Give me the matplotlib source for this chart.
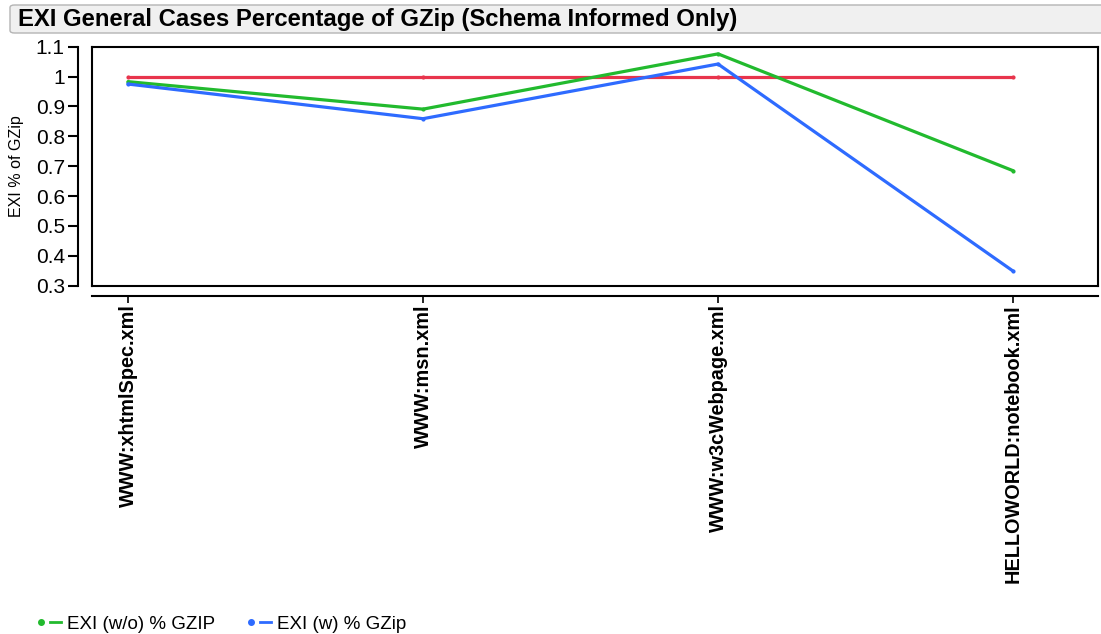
# %%
# EXI / GZip size ratio for the general test cases
import numpy as np
import matplotlib
matplotlib.use('Agg')
import matplotlib.pyplot as plt
from matplotlib.lines import Line2D
from matplotlib.patches import FancyBboxPatch
from matplotlib.legend_handler import HandlerTuple

plt.rcParams['font.family'] = ['Liberation Sans', 'DejaVu Sans']

categories = ['WWW:xhtmlSpec.xml', 'WWW:msn.xml', 'WWW:w3cWebpage.xml', 'HELLOWORLD:notebook.xml']
gzip_base = [1.0, 1.0, 1.0, 1.0]
exi_wo = [0.983, 0.891, 1.076, 0.685]
exi_w = [0.975, 0.859, 1.042, 0.349]
yticks = [0.3, 0.4, 0.5, 0.6, 0.7, 0.8, 0.9, 1, 1.1]

GREEN = '#22BA2E'
BLUE = '#2E6BFF'
RED = '#E8344C'

W, H = 1101, 634
fig = plt.figure(figsize=(W / 100, H / 100), dpi=100)


def box(x0, y0, x1, y1):
    # pixel box (top-left origin) -> figure fraction rect
    return [x0 / W, 1 - y1 / H, (x1 - x0) / W, (y1 - y0) / H]


# %%
# title bar
fig.patches.append(FancyBboxPatch((10 / W, 1 - 33 / H), 1100 / W, 28 / H,
                                  boxstyle='round,pad=0,rounding_size=0.004',
                                  transform=fig.transFigure, facecolor='#F0F0F0',
                                  edgecolor='#B4B4B4', linewidth=1.0))
fig.text(18 / W, 1 - 19.5 / H, 'EXI General Cases Percentage of GZip (Schema Informed Only)',
         fontsize=17.2, fontweight='bold', va='center', ha='left')

# %%
# plot frame
x = np.arange(len(categories))
xlim = (-0.123, 3.288)
ylim = (0.3, 1.1)

ax = fig.add_axes(box(91.7, 46.7, 1098, 285.7))
ax.plot(x, gzip_base, color=RED, lw=2.3, marker='o', ms=2, solid_capstyle='round')
ax.plot(x, exi_wo, color=GREEN, lw=2.3, marker='o', ms=2, solid_capstyle='round')
ax.plot(x, exi_w, color=BLUE, lw=2.3, marker='o', ms=2, solid_capstyle='round')
ax.set_xlim(xlim)
ax.set_ylim(ylim)
ax.set_xticks([])
ax.set_yticks([])
for s in ax.spines.values():
    s.set_linewidth(1.5)

# y axis drawn apart from the frame
ay = fig.add_axes(box(78, 46.7, 79, 285.7))
ay.set_ylim(ylim)
ay.set_yticks(yticks)
ay.set_yticklabels(['0.3', '0.4', '0.5', '0.6', '0.7', '0.8', '0.9', '1', '1.1'])
ay.set_xticks([])
for k in ['top', 'right', 'bottom']:
    ay.spines[k].set_visible(False)
ay.spines['left'].set_linewidth(1.5)
ay.tick_params(axis='y', length=7, width=1.5, labelsize=15, pad=2.5)
ay.patch.set_visible(False)
fig.text(17 / W, 1 - 166 / H, 'EXI % of GZip', rotation=90, fontsize=11.5,
         ha='center', va='center')

# x axis drawn below the frame
axx = fig.add_axes(box(91.7, 295, 1098, 296))
axx.set_xlim(xlim)
axx.set_xticks(x)
axx.set_xticklabels(categories, rotation=90, fontsize=14.3, fontweight='bold')
axx.set_yticks([])
for k in ['top', 'right', 'left']:
    axx.spines[k].set_visible(False)
axx.spines['bottom'].set_linewidth(1.5)
axx.tick_params(axis='x', length=5, width=1.2, pad=1)
axx.patch.set_visible(False)

# %%
# legend: dot + short line per series
h_wo = (Line2D([], [], ls='', marker='o', ms=4, color=GREEN), Line2D([], [], color=GREEN, lw=2))
h_w = (Line2D([], [], ls='', marker='o', ms=4, color=BLUE), Line2D([], [], color=BLUE, lw=2))
fig.legend([h_wo, h_w], ['EXI (w/o) % GZIP', 'EXI (w) % GZip'],
           handler_map={tuple: HandlerTuple(ndivide=None, pad=0.2)},
           loc='center left', bbox_to_anchor=(35 / W, 1 - 624 / H), ncol=2,
           frameon=False, fontsize=13.5, handlelength=1.4, handletextpad=0.3,
           columnspacing=1.6, borderpad=0, borderaxespad=0)

fig.savefig('out.png', dpi=100, facecolor='white')
